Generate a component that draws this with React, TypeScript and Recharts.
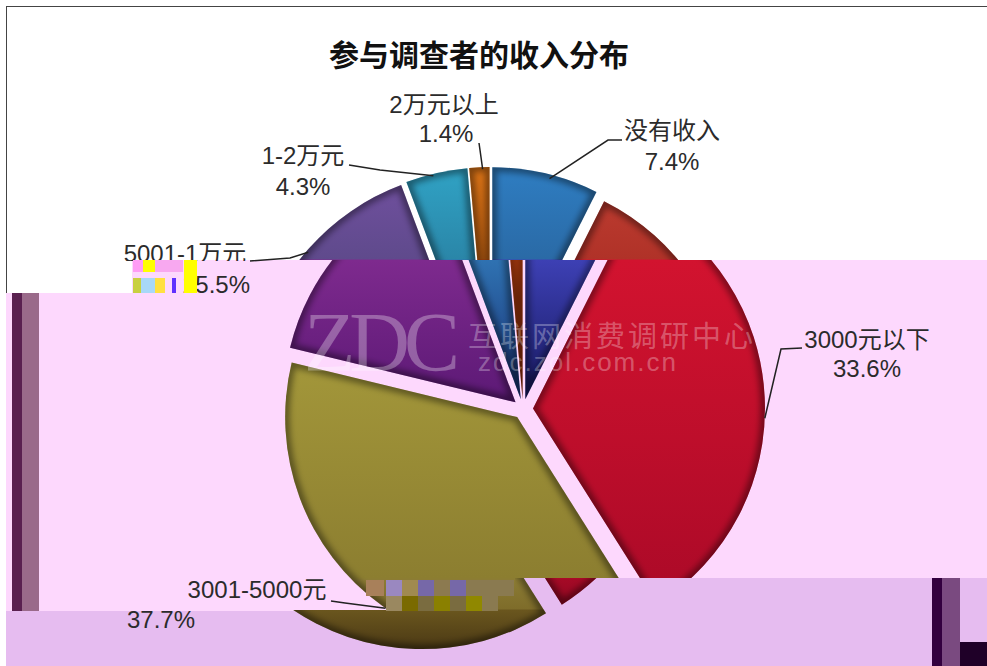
import React from 'react';
import { PieChart, Pie, Cell, Sector } from 'recharts';

const CATEGORIES = ['没有收入', '3000元以下', '3001-5000元', '5001-1万元', '1-2万元', '2万元以上'];
const PERCENTS = [7.4, 33.6, 37.7, 15.5, 4.3, 1.4];

const CX = 523;
const CY = 409;
const RADIUS = 232;
const EXPLODE = 10;
const RAD = Math.PI / 180;

// the source picture is broken into bands that slid sideways
const TOP_BAND_END = 260;
const TOP_SHIFT = -33;
const BOTTOM_SHIFT = -95;

// [y where the colour starts, colour] top to bottom, the picture changes colour in horizontal bands
const SLICE_STOPS: [number, string][][] = [
  [[160, '#2f7fc4'], [259, '#2a6aa6'], [260, '#3d40b4'], [400, '#17185f']],
  [[190, '#bd3c30'], [259, '#b03228'], [260, '#d2132f'], [578, '#ae0a28'], [579, '#a50a26'], [610, '#8c0620']],
  [[360, '#a3973a'], [578, '#8c7e30'], [579, '#8c7c34'], [609, '#7e6c2a'], [610, '#6a561e'], [650, '#4a3814']],
  [[190, '#6e4f9c'], [259, '#5f4a8c'], [260, '#7e2a8e'], [410, '#5a1874']],
  [[170, '#30a2c4'], [259, '#2a86a8'], [260, '#2f72b2'], [400, '#182f72']],
  [[165, '#dc7416'], [259, '#b85c10'], [260, '#c4420f'], [400, '#8a2a08']],
];

const LABEL_LAYOUT = [
  { x: 672, nameY: 139, pctY: 170, nudge: -1.2, inset: 4, elbow: [608, 140], end: [622, 140] },
  { x: 867, nameY: 348, pctY: 377, nudge: -5.2, inset: 0, elbow: [781, 349], end: [802, 348] },
  { x: 257, nameY: 598, pctY: 628, pctX: 161, nudge: 1.1, inset: 0, elbow: [345, 603], end: [331, 601] },
  { x: 185, nameY: 262, pctY: 293, pctX: 216, nudge: 0.8, inset: 2, elbow: [290, 258], end: [250, 261] },
  { x: 303, nameY: 164, pctY: 195, nudge: 0.9, inset: 2, elbow: [380, 170], end: [349, 165] },
  { x: 444, nameY: 113, pctY: 142, pctX: 446, nudge: -0.8, inset: 2, elbow: [480, 150], end: [479, 143] },
];

const LABEL_FONT = '"Liberation Sans", "Noto Sans CJK SC", sans-serif';

const BLOCKS: [number, number, number, number, string][] = [
  // page bands
  [6, 7, 981, 253, '#ffffff'],
  [132, 260, 855, 33, '#fdd8fd'],
  [6, 293, 981, 285, '#fdd8fd'],
  [6, 578, 510, 33, '#fdd8fd'],
  [516, 578, 471, 88, '#e6bcf0'],
  [6, 611, 510, 55, '#e6bcf0'],
  // stray bars left and right
  [12, 293, 10, 318, '#5a2050'],
  [22, 293, 17, 318, '#9a6a8a'],
  [932, 578, 10, 88, '#33003f'],
  [942, 578, 18, 88, '#7a4a80'],
  [960, 642, 27, 24, '#1f0028'],
];

const MOSAIC: [number, number, number, number, string][] = [
  [366, 580, 18, 16, '#a8805a'],
  [386, 580, 16, 16, '#9a88c0'],
  [402, 580, 16, 16, '#a08a50'],
  [418, 580, 16, 16, '#7668a8'],
  [434, 580, 16, 16, '#8c7a50'],
  [450, 580, 16, 16, '#7668a8'],
  [466, 580, 48, 16, '#8a7a50'],
  [386, 596, 16, 15, '#9a8860'],
  [402, 596, 16, 15, '#7a6a00'],
  [418, 596, 16, 15, '#7a6c40'],
  [434, 596, 16, 15, '#8a8000'],
  [450, 596, 16, 15, '#7a6c40'],
  [466, 596, 16, 15, '#908800'],
  [482, 596, 16, 15, '#8a7a50'],
  [133, 260, 10, 12, '#ff9cf5'],
  [143, 260, 12, 12, '#ffff00'],
  [155, 260, 28, 12, '#f8a8f0'],
  [184, 260, 13, 33, '#ffff00'],
  [133, 278, 8, 15, '#c8d040'],
  [141, 278, 14, 15, '#a8d8f8'],
  [155, 278, 10, 15, '#ffe040'],
  [172, 278, 4, 15, '#6030ff'],
];

const rows = CATEGORIES.map((name, i) => ({ name, value: PERCENTS[i] }));

function ExplodedSlice(props: any) {
  const { cx, cy, midAngle, index, fill, startAngle, endAngle, innerRadius, outerRadius } = props;
  const dx = EXPLODE * Math.cos(-midAngle * RAD);
  const dy = EXPLODE * Math.sin(-midAngle * RAD);
  const geo = { cx: cx + dx, cy: cy + dy, startAngle, endAngle, innerRadius, outerRadius };
  const clipId = `slice-clip-${index}`;
  const body = (
    <>
      <Sector {...geo} fill={fill} stroke="none" />
      <g clipPath={`url(#${clipId})`}>
        <Sector {...geo} fill="none" stroke="#000" strokeOpacity={0.42} strokeWidth={9} filter="url(#bevel-blur)" />
      </g>
    </>
  );
  return (
    <g>
      <clipPath id={clipId}>
        <Sector {...geo} />
      </clipPath>
      <g clipPath="url(#band-top)">
        <g transform={`translate(${TOP_SHIFT},0)`}>{body}</g>
      </g>
      <g clipPath="url(#band-mid)">{body}</g>
      <g clipPath="url(#band-bottom)">
        <g transform={`translate(${BOTTOM_SHIFT},0)`}>{body}</g>
      </g>
    </g>
  );
}

function SliceLabel(props: any) {
  const { cx, cy, midAngle, outerRadius, index, name, value } = props;
  const l = LABEL_LAYOUT[index];
  const ox = cx + EXPLODE * Math.cos(-midAngle * RAD);
  const oy = cy + EXPLODE * Math.sin(-midAngle * RAD);
  const a = -(midAngle + l.nudge) * RAD;
  const sy = oy + (outerRadius - l.inset) * Math.sin(a);
  const sx = ox + (outerRadius - l.inset) * Math.cos(a) + (sy < TOP_BAND_END ? TOP_SHIFT : 0);
  return (
    <g fontFamily={LABEL_FONT} fontSize={24} fill="#2b2b2b" textAnchor="middle">
      <polyline
        points={`${sx},${sy} ${l.elbow[0]},${l.elbow[1]} ${l.end[0]},${l.end[1]}`}
        fill="none"
        stroke="#222"
        strokeWidth={1.5}
      />
      <text x={l.x} y={l.nameY} clipPath={index === 3 ? 'url(#label-cut)' : undefined}>
        {name}
      </text>
      <text x={l.pctX ?? l.x} y={l.pctY}>
        {value.toFixed(1)}%
      </text>
    </g>
  );
}

const box = (b: [number, number, number, number, string], key: number) => (
  <div
    key={key}
    style={{ position: 'absolute', left: b[0], top: b[1], width: b[2], height: b[3], background: b[4] }}
  />
);

const wm: React.CSSProperties = { position: 'absolute', color: 'rgba(255,255,255,0.3)', whiteSpace: 'nowrap' };

export default function App() {
  return (
    <div style={{ position: 'absolute', left: 0, top: 0, width: 987, height: 666, overflow: 'hidden', background: '#fff' }}>
      {BLOCKS.map(box)}
      <div style={{ position: 'absolute', left: 6, top: 6, width: 981, height: 1, background: '#444' }} />
      <div style={{ position: 'absolute', left: 6, top: 6, width: 1, height: 287, background: '#444' }} />
      <div
        style={{
          position: 'absolute',
          left: 0,
          width: 958,
          top: 32,
          textAlign: 'center',
          font: 'bold 30px "Noto Sans CJK SC", sans-serif',
          lineHeight: '42px',
          color: '#111',
        }}
      >
        参与调查者的收入分布
      </div>
      <div style={{ position: 'absolute', left: 0, top: 0 }}>
        <PieChart width={987} height={666} margin={{ top: 0, right: 0, bottom: 0, left: 0 }}>
          <defs>
            <filter id="bevel-blur" x="-20%" y="-20%" width="140%" height="140%">
              <feGaussianBlur stdDeviation="3" />
            </filter>
            <clipPath id="label-cut">
              <rect x={0} y={0} width={400} height={261} />
            </clipPath>
            <clipPath id="band-top">
              <rect x={0} y={0} width={987} height={TOP_BAND_END} />
            </clipPath>
            <clipPath id="band-mid">
              <rect x={0} y={TOP_BAND_END} width={987} height={318} />
              <rect x={0} y={578} width={515} height={32} />
            </clipPath>
            <clipPath id="band-bottom">
              <rect x={515} y={578} width={472} height={32} />
              <rect x={0} y={610} width={987} height={56} />
            </clipPath>
            {SLICE_STOPS.map((stops, i) => (
              <linearGradient key={i} id={`slice-${i}`} gradientUnits="userSpaceOnUse" x1={0} y1={0} x2={0} y2={666}>
                {stops.map(([y, c], j) => (
                  <stop key={j} offset={y / 666} stopColor={c} />
                ))}
              </linearGradient>
            ))}
          </defs>
          <Pie
            data={rows}
            dataKey="value"
            nameKey="name"
            cx={CX}
            cy={CY}
            innerRadius={0}
            outerRadius={RADIUS}
            startAngle={90}
            endAngle={-270}
            paddingAngle={0}
            stroke="none"
            isAnimationActive={false}
            shape={ExplodedSlice}
            label={SliceLabel}
            labelLine={false}
          >
            {rows.map((_, i) => (
              <Cell key={i} fill={`url(#slice-${i})`} />
            ))}
          </Pie>
        </PieChart>
      </div>
      {MOSAIC.map(box)}
      <div style={{ ...wm, left: 304, top: 294, font: '84px "Liberation Serif", serif', letterSpacing: -6 }}>ZDC</div>
      <div style={{ ...wm, left: 468, top: 316, font: '29px "Noto Sans CJK SC", sans-serif', lineHeight: '36px', letterSpacing: 3 }}>
        互联网消费调研中心
      </div>
      <div style={{ ...wm, left: 478, top: 347, font: '26px "Liberation Sans", sans-serif', lineHeight: '30px', letterSpacing: 2 }}>
        zdc.zol.com.cn
      </div>
    </div>
  );
}
